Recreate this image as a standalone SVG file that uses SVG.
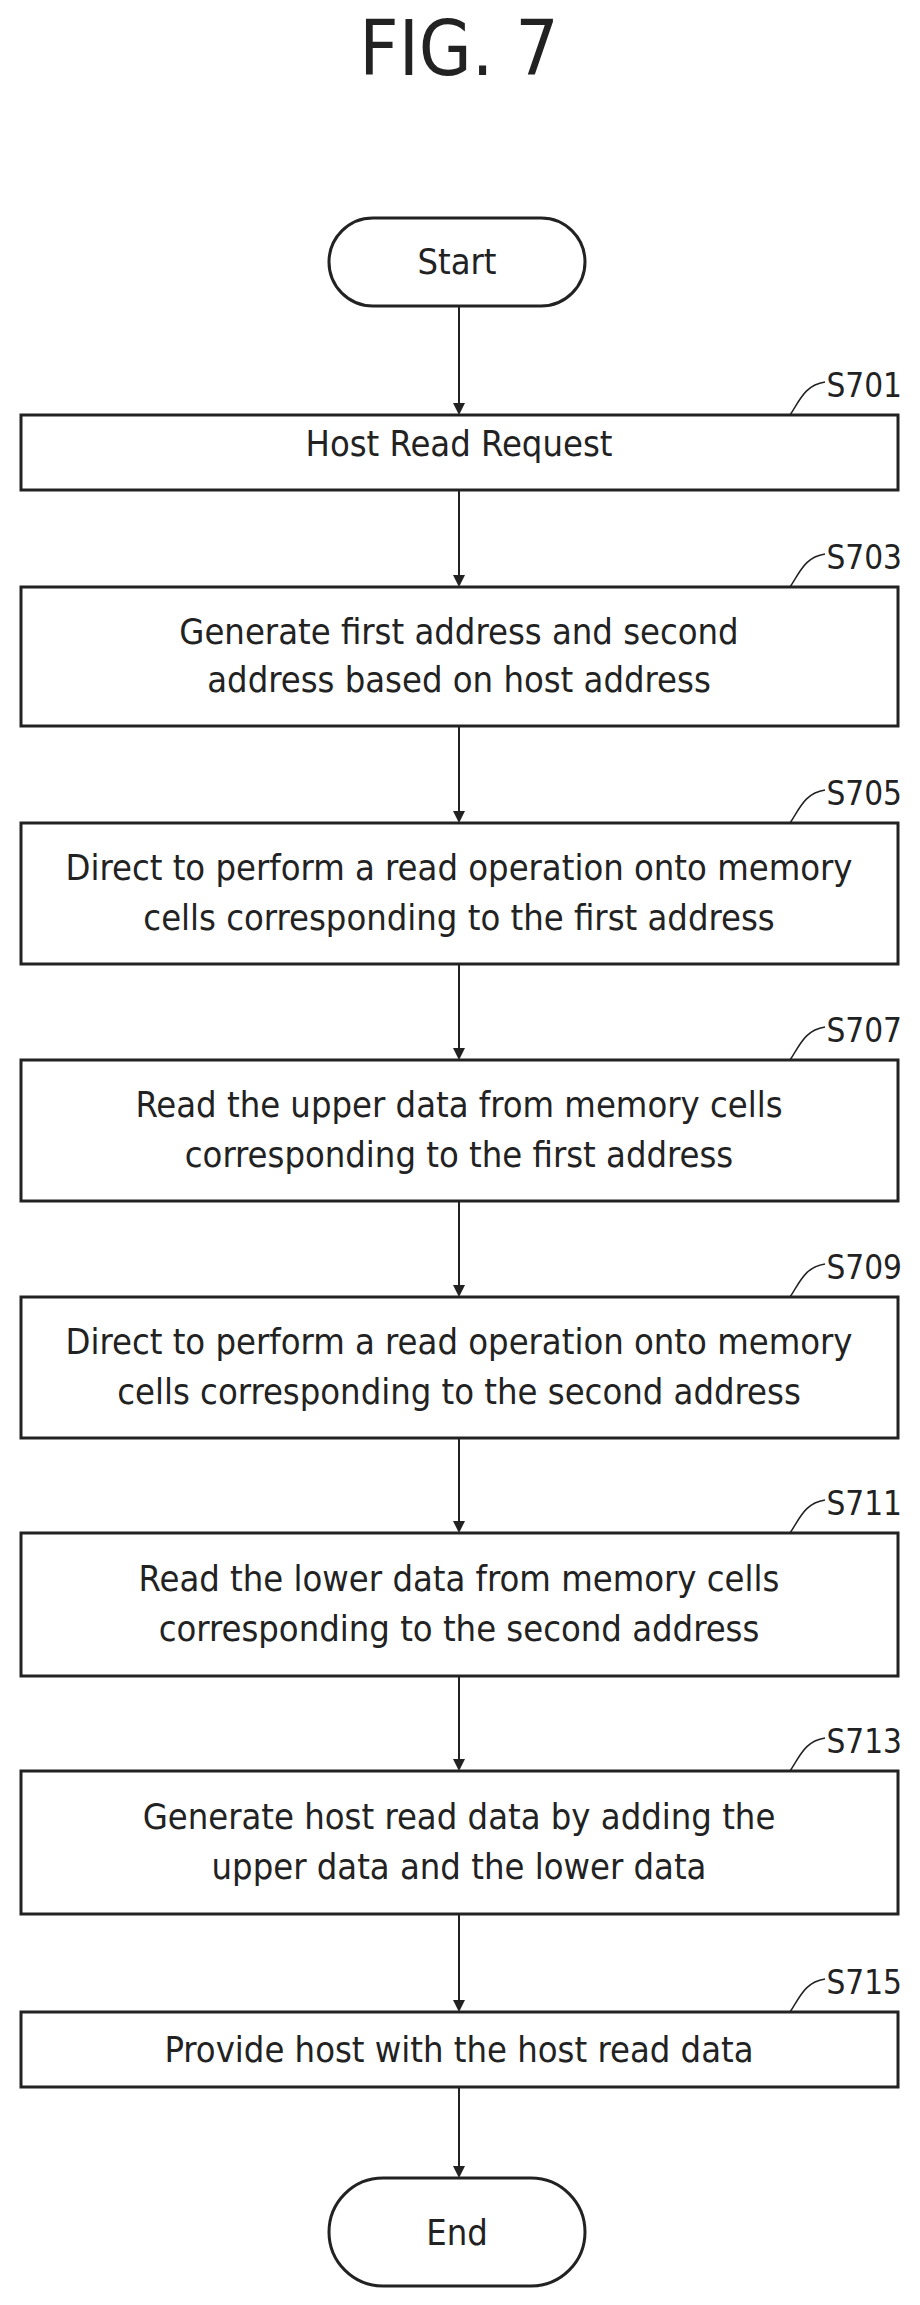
<svg xmlns="http://www.w3.org/2000/svg" width="920" height="2305" viewBox="0 0 920 2305">
<style>
.b{fill:#fff;stroke:#222;stroke-width:3}
.t{font-family:"DejaVu Sans Condensed","DejaVu Sans",sans-serif;font-size:36px;fill:#222;text-anchor:middle}
.l{font-family:"DejaVu Sans Condensed","DejaVu Sans",sans-serif;font-size:33px;fill:#222;text-anchor:end}
.c{stroke:#222;stroke-width:2;fill:none}
.ld{stroke:#222;stroke-width:1.5;fill:none}
</style>
<defs><marker id="a" markerWidth="12" markerHeight="12" refX="10" refY="6" orient="auto" markerUnits="userSpaceOnUse"><path d="M0,0 L12,6 L0,12 Z" fill="#222"/></marker></defs>
<rect width="920" height="2305" fill="#fff"/>
<text x="459" y="75" style="font-family:'DejaVu Sans Condensed','DejaVu Sans',sans-serif;font-size:76px;fill:#222;text-anchor:middle">FIG. 7</text>
<g id="connectors">
<line class="c" x1="459" y1="306" x2="459" y2="413" marker-end="url(#a)"/>
<line class="c" x1="459" y1="490" x2="459" y2="585" marker-end="url(#a)"/>
<line class="c" x1="459" y1="726" x2="459" y2="821" marker-end="url(#a)"/>
<line class="c" x1="459" y1="964" x2="459" y2="1058" marker-end="url(#a)"/>
<line class="c" x1="459" y1="1201" x2="459" y2="1295" marker-end="url(#a)"/>
<line class="c" x1="459" y1="1438" x2="459" y2="1531" marker-end="url(#a)"/>
<line class="c" x1="459" y1="1676" x2="459" y2="1769" marker-end="url(#a)"/>
<line class="c" x1="459" y1="1914" x2="459" y2="2010" marker-end="url(#a)"/>
<line class="c" x1="459" y1="2087" x2="459" y2="2176" marker-end="url(#a)"/>
</g>
<g id="start"><rect class="b" x="329" y="218" width="256" height="88" rx="44"/><text class="t" x="457" y="274">Start</text></g>
<g id="s701"><rect class="b" x="21" y="415" width="877" height="75"/><text class="t" x="459" y="456">Host Read Request</text><path class="ld" d="M790,415 C800,400 805,385 825,382"/><text class="l" x="902" y="397">S701</text></g>
<g id="s703"><rect class="b" x="21" y="587" width="877" height="139"/><text class="t" x="459" y="644">Generate first address and second</text><text class="t" x="459" y="692">address based on host address</text><path class="ld" d="M790,587 C800,572 805,557 825,554"/><text class="l" x="902" y="569">S703</text></g>
<g id="s705"><rect class="b" x="21" y="823" width="877" height="141"/><text class="t" x="459" y="880">Direct to perform a read operation onto memory</text><text class="t" x="459" y="930">cells corresponding to the first address</text><path class="ld" d="M790,823 C800,808 805,793 825,790"/><text class="l" x="902" y="805">S705</text></g>
<g id="s707"><rect class="b" x="21" y="1060" width="877" height="141"/><text class="t" x="459" y="1117">Read the upper data from memory cells</text><text class="t" x="459" y="1167">corresponding to the first address</text><path class="ld" d="M790,1060 C800,1045 805,1030 825,1027"/><text class="l" x="902" y="1042">S707</text></g>
<g id="s709"><rect class="b" x="21" y="1297" width="877" height="141"/><text class="t" x="459" y="1354">Direct to perform a read operation onto memory</text><text class="t" x="459" y="1404">cells corresponding to the second address</text><path class="ld" d="M790,1297 C800,1282 805,1267 825,1264"/><text class="l" x="902" y="1279">S709</text></g>
<g id="s711"><rect class="b" x="21" y="1533" width="877" height="143"/><text class="t" x="459" y="1591">Read the lower data from memory cells</text><text class="t" x="459" y="1641">corresponding to the second address</text><path class="ld" d="M790,1533 C800,1518 805,1503 825,1500"/><text class="l" x="902" y="1515">S711</text></g>
<g id="s713"><rect class="b" x="21" y="1771" width="877" height="143"/><text class="t" x="459" y="1829">Generate host read data by adding the</text><text class="t" x="459" y="1879">upper data and the lower data</text><path class="ld" d="M790,1771 C800,1756 805,1741 825,1738"/><text class="l" x="902" y="1753">S713</text></g>
<g id="s715"><rect class="b" x="21" y="2012" width="877" height="75"/><text class="t" x="459" y="2062">Provide host with the host read data</text><path class="ld" d="M790,2012 C800,1997 805,1982 825,1979"/><text class="l" x="902" y="1994">S715</text></g>
<g id="end"><rect class="b" x="329" y="2178" width="256" height="108" rx="54"/><text class="t" x="457" y="2245">End</text></g>
</svg>
